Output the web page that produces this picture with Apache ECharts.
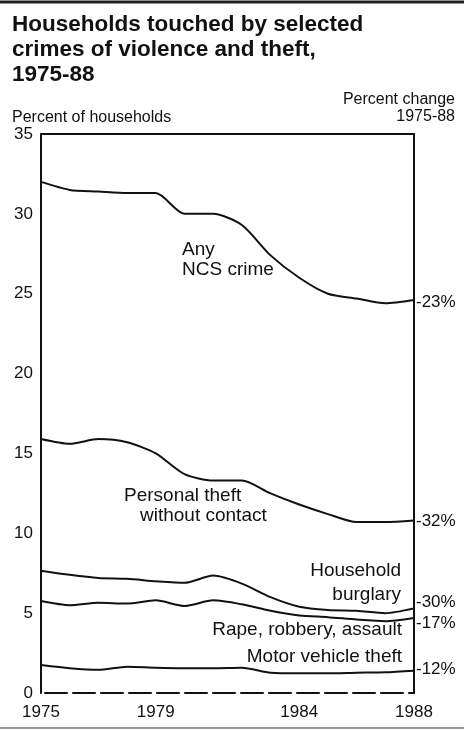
<!DOCTYPE html>
<html>
<head>
<meta charset="utf-8">
<script src="https://cdn.jsdelivr.net/npm/echarts@6/dist/echarts.min.js"></script>
<style>html,body{margin:0;padding:0;background:#fff}#c{width:464px;height:730px}</style>
</head>
<body>
<div id="c"></div>
<script>
const years = ['1975','1976','1977','1978','1979','1980','1981','1982','1983','1984','1985','1986','1987','1988'];
const xTickLabels = ['1975','1979','1984','1988'];
const yTicks = [0,5,10,15,20,25,30,35];
const seriesNames = ['Any NCS crime','Personal theft without contact','Household burglary','Rape, robbery, assault','Motor vehicle theft'];
const anyNCS = [32.0,31.5,31.4,31.3,31.3,30.0,30.0,29.3,27.4,26.0,25.0,24.7,24.4,24.6];
const personalTheft = [15.9,15.6,15.9,15.7,15.0,13.7,13.3,13.3,12.5,11.8,11.2,10.7,10.7,10.8];
const burglary = [7.66,7.4,7.2,7.15,7.0,6.9,7.35,6.85,6.0,5.4,5.2,5.15,5.0,5.3];
const violence = [5.76,5.5,5.65,5.6,5.8,5.45,5.8,5.55,5.15,4.85,4.75,4.6,4.5,4.7];
const motorTheft = [1.75,1.55,1.45,1.65,1.58,1.55,1.55,1.58,1.27,1.23,1.23,1.27,1.3,1.4];
const pctChange = ['-23%','-32%','-30%','-17%','-12%'];

const FONT = 'Liberation Sans, Arial, Helvetica, sans-serif';
const INK = '#111';
const chart = echarts.init(document.getElementById('c'), null, {renderer:'canvas'});

const allData = [anyNCS, personalTheft, burglary, violence, motorTheft];
const endOffsets = [[0,2],[0,1],[0,-6],[0,5],[0,-1]];

const series = allData.map((d, i) => ({
  name: seriesNames[i],
  type: 'line',
  data: d,
  smooth: 0.25,
  showSymbol: false,
  silent: true,
  lineStyle: {color: INK, width: 2},
  endLabel: {
    show: true,
    formatter: () => pctChange[i],
    color: INK,
    fontFamily: FONT,
    fontSize: 17,
    distance: 2,
    offset: endOffsets[i]
  }
}));

const txt = (x, y, text, size, align, extra) => ({
  type: 'text', x: x, y: y, silent: true,
  style: Object.assign({text: text, fill: INK, fontFamily: FONT, fontSize: size, align: align, verticalAlign: 'middle'}, extra || {})
});

chart.setOption({
  animation: false,
  backgroundColor: '#fff',
  title: {
    text: 'Households touched by selected\ncrimes of violence and theft,\n1975-88',
    left: 12, top: 12, padding: 0,
    textStyle: {fontFamily: FONT, fontSize: 22.5, fontWeight: 'bold', color: INK, lineHeight: 25}
  },
  grid: {left: 41, right: 50, top: 134, bottom: 37, containLabel: false},
  xAxis: [{
    type: 'category', data: years, boundaryGap: false, position: 'bottom',
    axisLine: {show: true, onZero: false, lineStyle: {color: INK, width: 2, type: [22, 6], dashOffset: -4}},
    axisTick: {show: false},
    splitLine: {show: false},
    axisLabel: {
      interval: (idx, val) => xTickLabels.indexOf(val) >= 0,
      color: INK, fontFamily: FONT, fontSize: 17, margin: 11
    }
  }, {
    type: 'category', data: years, boundaryGap: false, position: 'top',
    axisLine: {show: true, onZero: false, lineStyle: {color: INK, width: 2}},
    axisTick: {show: false}, axisLabel: {show: false}, splitLine: {show: false}
  }],
  yAxis: [{
    type: 'value', min: 0, max: 35, interval: 5,
    axisLine: {show: true, onZero: false, lineStyle: {color: INK, width: 2}},
    axisTick: {show: false},
    splitLine: {show: false},
    axisLabel: {color: INK, fontFamily: FONT, fontSize: 17, margin: 8,
      formatter: v => yTicks.indexOf(v) >= 0 ? String(v) : ''}
  }, {
    type: 'value', min: 0, max: 35, interval: 5, position: 'right',
    axisLine: {show: true, onZero: false, lineStyle: {color: INK, width: 2}},
    axisTick: {show: false}, axisLabel: {show: false}, splitLine: {show: false}
  }],
  series: series,
  graphic: [
    {type: 'line', silent: true, shape: {x1: 0, y1: 2, x2: 464, y2: 2}, style: {stroke: '#222', lineWidth: 3}},
    {type: 'line', silent: true, shape: {x1: 0, y1: 728, x2: 464, y2: 728}, style: {stroke: '#999', lineWidth: 2}},
    txt(12, 118, 'Percent of households', 16, 'left'),
    txt(455, 100, 'Percent change', 16, 'right'),
    txt(455, 117, '1975-88', 16, 'right'),
    txt(182, 250, 'Any', 19, 'left'),
    txt(182, 270, 'NCS crime', 19, 'left'),
    txt(124, 496, 'Personal theft', 19, 'left'),
    txt(140, 516, 'without contact', 19, 'left'),
    txt(401, 571, 'Household', 19, 'right'),
    txt(401, 595, 'burglary', 19, 'right'),
    txt(402, 630, 'Rape, robbery, assault', 19, 'right'),
    txt(402, 657, 'Motor vehicle theft', 19, 'right')
  ]
});
</script>
</body>
</html>
